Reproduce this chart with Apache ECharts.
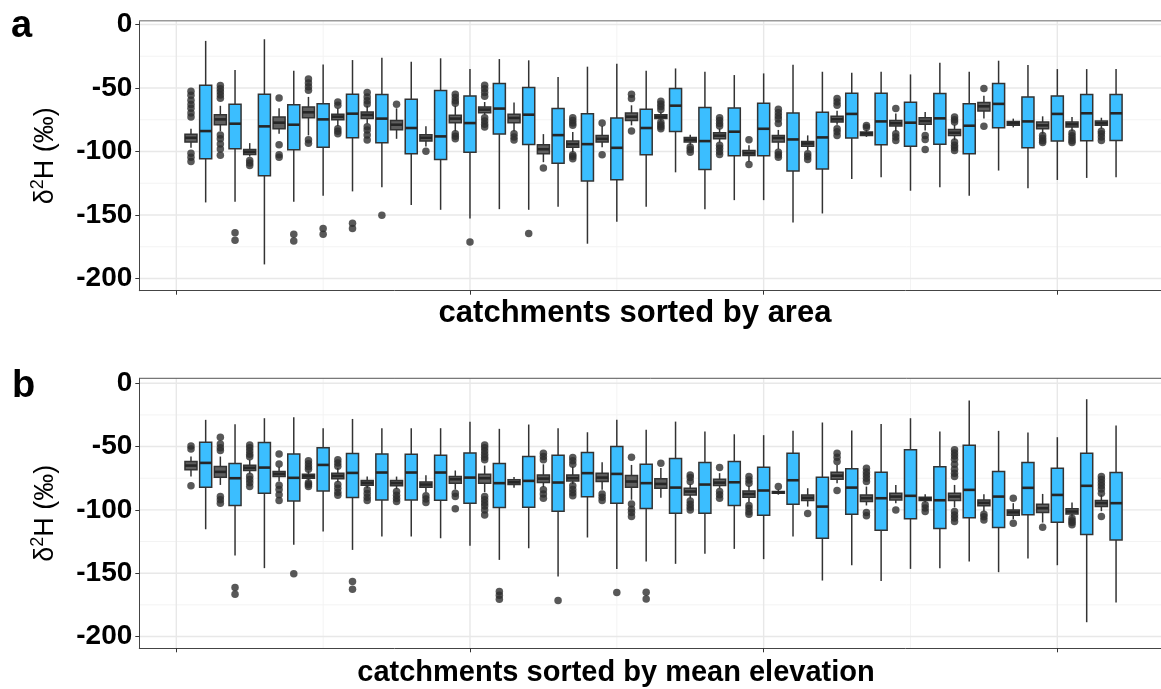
<!DOCTYPE html>
<html><head><meta charset="utf-8">
<script src="https://cdn.jsdelivr.net/npm/echarts@6/dist/echarts.min.js"></script>
<style>html,body{margin:0;padding:0;background:#fff}#c{width:1161px;height:689px}</style>
</head><body><div id="c"></div>
<script>
// ---------------- DATA ----------------
const catchments = [1,2,3,4,5,6,7,8,9,10,11,12,13,14,15,16,17,18,19,20,21,22,23,24,25,26,27,28,29,30,31,32];
const yTickValues = [-200, -150, -100, -50, 0];
const yMinorGrid = [-175, -125, -75, -25];
const xTickValues = [0, 10, 20, 30];
const xMinorGrid = [5, 15, 25];
const panelLabels = ['a', 'b'];
const xTitles = ['catchments sorted by area', 'catchments sorted by mean elevation'];
const yTitleParts = ['δ', '2', 'H (‰)'];

// box stats: [lower whisker, Q1, median, Q3, upper whisker]
// (a) catchments sorted by area — narrow dark boxes
const areaStreamBox = [
  [-97,-92.6,-89.2,-86.5,-82],[-84,-78.9,-74.7,-71,-64],[-104,-102.4,-100.3,-98.4,-93.4],[-86,-82.1,-77.3,-72.8,-66],
  [-87.3,-73.4,-69.1,-64.9,-57],[-80,-74.9,-72.6,-70.7,-66],[-78,-74.1,-71.2,-68.9,-64],[-90,-82.8,-78.9,-75.5,-66],
  [-96,-91.8,-89.2,-86.8,-80.2],[-84,-77.3,-74.1,-71.5,-64],[-71,-69.4,-67,-64.9,-61],[-84,-77.3,-73.6,-70.7,-61.5],
  [-108.4,-101.8,-98.2,-94.7,-86.3],[-100.5,-96.6,-94.2,-91.8,-84.7],[-96.6,-92.6,-90,-87.3,-80],[-79.4,-75.5,-72.6,-69.7,-63.6],
  [-76,-74.1,-72.6,-71,-69],[-95,-92.6,-90.7,-88.9,-86.8],[-93,-90,-87.5,-85.2,-82],[-108,-103.2,-101.3,-99.2,-95],
  [-98,-92.6,-89.4,-87.3,-83],[-99,-95.8,-93.7,-92.1,-87.3],[-79,-76.8,-74.6,-72.3,-68],[-88.5,-87.3,-85.8,-84.7,-83],
  [-84,-79.9,-77.8,-75.5,-70],[-83.4,-78.6,-76,-73.4,-68.9],[-91,-87.3,-85.2,-82.6,-79],[-74,-68.1,-64.4,-61.5,-56],
  [-81,-79.4,-77.8,-76.3,-74.1],[-86,-82.1,-79.4,-76.8,-72.3],[-84,-80.7,-78.6,-76.8,-72.8],[-82,-79.4,-77.8,-76,-73.4]
];
const areaStreamOutliers = [
  [1,-52.5],[1,-55.7],[1,-59.6],[1,-63],[1,-66],[1,-69.7],[1,-72.8],[1,-101.3],[1,-104.5],[1,-107.9],
  [2,-48],[2,-50.5],[2,-53],[2,-55.5],[2,-58],[2,-87],[2,-90],[2,-94],[2,-98],[2,-103],
  [3,-107],[3,-109],[3,-111],
  [4,-57.8],[4,-94.7],[4,-102.6],[4,-104.5],
  [5,-43],[5,-46],[5,-49],[5,-51.7],[5,-90.8],[5,-93.4],
  [6,-61],[6,-63.6],[6,-82],[6,-84],[6,-86],
  [7,-53.5],[7,-57],[7,-60],[7,-62.5],[7,-80.5],[7,-83],[7,-87],[7,-91],
  [8,-62.8],[9,-99.7],
  [10,-55],[10,-57.5],[10,-60],[10,-62],[10,-86],[10,-88],[10,-90],
  [11,-47.8],[11,-50.5],[11,-53.5],[11,-56.5],[11,-73.5],[11,-76],[11,-78.5],[11,-80.7],
  [12,-86],[12,-88.5],[12,-91],
  [13,-112.9],
  [14,-73.4],[14,-75.5],[14,-77.5],[14,-79.4],[14,-102.6],[14,-104],[14,-105.8],
  [15,-77.6],[15,-102.6],
  [16,-55],[16,-58.3],[16,-83.9],
  [17,-60.4],[17,-62.5],[17,-64.5],[17,-67],[17,-77],[17,-79],[17,-80.5],[17,-82],
  [18,-96.5],[18,-98.5],[18,-100.5],
  [19,-73.4],[19,-75.5],[19,-78],[19,-80],[19,-95],[19,-97.5],[19,-100],[19,-102.4],
  [20,-90.8],[20,-110.3],
  [21,-66.8],[21,-69.5],[21,-72],[21,-74.5],[21,-78],[21,-100.5],[21,-102.5],[21,-104.5],
  [22,-101.8],[22,-104],[22,-106.3],
  [23,-58.3],[23,-61],[23,-63.5],[23,-82],[23,-84.5],[23,-87.3],
  [24,-79.5],[24,-81],
  [25,-66.2],[25,-86],[25,-88.5],[25,-91.3],
  [26,-87.3],[26,-90.5],[26,-98.4],
  [27,-72.8],[27,-75],[27,-76.8],[27,-92.6],[27,-95],[27,-97],[27,-99.2],
  [28,-50.4],[28,-80.2],
  [30,-87.3],[30,-89.5],[30,-91.5],[30,-93],
  [31,-85.5],[31,-87.5],[31,-89.5],[31,-91.5],[31,-93],
  [32,-84],[32,-86],[32,-88.5],[32,-91.3]
];
// (a) wide blue boxes
const areaPrecipBox = [
  [-140.1,-105.8,-83.9,-47.8,-12.9],[-139.6,-97.9,-78.1,-62.8,-35.9],[-188.9,-119,-80.2,-54.9,-11.6],[-139.6,-98.7,-78.9,-63.1,-36.4],
  [-134.8,-96.6,-74.7,-62.3,-31.4],[-131.4,-89.2,-70.2,-54.9,-28],[-128.2,-93.1,-74.1,-55.1,-26.1],[-142.2,-101.8,-81.5,-58.8,-29.3],
  [-145.9,-106.3,-88.1,-52,-26.6],[-152.8,-100.5,-77.6,-56.2,-35.1],[-145.4,-86.3,-66.2,-46.4,-27.2],[-145.9,-94.5,-71,-49.6,-28.2],
  [-143.5,-109.2,-87.1,-66.2,-41.4],[-172.6,-123.2,-94.2,-70.2,-33.2],[-155.4,-122.2,-97.1,-73.6,-30.9],[-143.5,-102.6,-81.5,-66.8,-36.4],
  [-116.4,-84.2,-63.9,-50.4,-34.6],[-145.4,-114.2,-91.8,-65.4,-37.2],[-138.3,-103.4,-84.4,-65.7,-39.8],[-138.3,-103.4,-82.1,-62,-38.5],
  [-155.9,-115.3,-90.5,-69.7,-31.7],[-148.8,-113.7,-88.9,-69.1,-37.2],[-121.6,-89.4,-70.4,-54.1,-38],[-120.3,-94.7,-76.3,-54.1,-37.2],
  [-130.9,-95.8,-77.3,-61.2,-39.3],[-128.2,-94.2,-73.9,-54.4,-30.1],[-134.8,-101.8,-79.7,-62.3,-37.2],[-115,-81.3,-62.5,-46.4,-28.5],
  [-129,-97.1,-76.3,-57,-31.9],[-122.4,-91.8,-70.4,-56.2,-35.1],[-120.8,-91.6,-69.9,-55.1,-35.1],[-120.3,-91.3,-69.9,-55.1,-35.1]
];
const areaPrecipOutliers = [
  [2,-163.9],[2,-169.9],[4,-165.2],[4,-170.4],[5,-160.7],[5,-165.2],[6,-156.5],[6,-160.7],[7,-150.1],[10,-171.2],[12,-164.6]
];

// (b) catchments sorted by mean elevation — narrow dark boxes
const elevStreamBox = [
  [-73.7,-68.4,-65,-61.8,-57.9],[-80.3,-74.2,-70,-65.8,-57.9],[-71.5,-68.9,-66.8,-64.7,-60.5],[-77.5,-73.7,-71.6,-69.7,-66],
  [-77,-75,-73.4,-71.8,-69.5],[-78,-75.5,-73.2,-71,-67],[-83,-80.5,-78.7,-76.8,-73.7],[-83.5,-81,-78.9,-76.8,-73.7],
  [-86,-82.1,-80,-77.9,-72.6],[-84,-78.9,-75.8,-73.7,-68.9],[-86,-78.9,-75,-71.8,-65],[-82.5,-80,-78.2,-76.3,-74],
  [-82,-78.4,-75.3,-72.4,-64],[-79.5,-77.1,-75,-72.4,-66],[-84.2,-77.6,-74.5,-71,-62.4],[-92,-82.1,-77.6,-72.9,-64.5],
  [-90.5,-82.9,-79.5,-75.5,-67],[-91,-88.2,-85.5,-82.9,-79.5],[-83,-80.8,-78.5,-75.8,-71],[-94,-90,-87.5,-85,-81],
  [-88,-86.8,-86.2,-85.5,-84],[-97.4,-92.6,-90.5,-88.2,-82.9],[-78.9,-75.8,-73,-70.3,-64.5],[-96.5,-93.4,-90.8,-88.2,-81.6],
  [-94.7,-92.1,-89.5,-86.8,-80.3],[-94,-92.6,-91.3,-90,-87.6],[-98,-92.6,-89.5,-86.8,-80.3],[-101,-96.8,-94.5,-92.1,-87.6],
  [-107.4,-104.2,-102,-100,-94.7],[-110,-102.1,-98.7,-95.5,-87.4],[-105.5,-103.2,-101.3,-99.2,-94.2],[-101,-97.4,-94.7,-92.6,-88]
];
const elevStreamOutliers = [
  [1,-49.5],[1,-52],[1,-81],
  [2,-42.6],[2,-48],[2,-51],[2,-53.2],[2,-89.5],[2,-92],[2,-94.7],
  [3,-48.7],[3,-51],[3,-53.5],[3,-56],[3,-58],[3,-73.5],[3,-76],[3,-78.5],[3,-81.6],
  [4,-55.8],[4,-63.7],[4,-80.5],[4,-84],[4,-88],[4,-92.6],
  [5,-61.3],[5,-63.5],[5,-66],[5,-68],[5,-78.5],[5,-80],[5,-81.6],
  [6,-60.5],[6,-63],[6,-65.5],[6,-80],[6,-83],[6,-86],[6,-88.5],
  [7,-84.2],[7,-87],[7,-90],[7,-92.6],
  [8,-85.5],[8,-88.5],[8,-91],[8,-93.4],
  [9,-88.9],[9,-91.5],[9,-94.2],
  [10,-86.8],[10,-89.5],[10,-99.2],
  [11,-48.7],[11,-51],[11,-53.5],[11,-56],[11,-58.5],[11,-60.5],[11,-89.5],[11,-92],[11,-94.5],[11,-97],[11,-100],[11,-104],
  [13,-55.3],[13,-57.8],[13,-60.5],[13,-84.2],[13,-87.5],[13,-90.8],
  [14,-58.7],[14,-61.3],[14,-63.9],[14,-81],[14,-84],[14,-86.5],[14,-88.9],
  [15,-87.5],[15,-90],[15,-92.6],
  [16,-58.4],[16,-95.3],[16,-99.5],[16,-102],[16,-105.3],
  [17,-63.2],
  [18,-72.4],[18,-74.5],[18,-77.6],[18,-93],[18,-95.5],[18,-98],[18,-100],
  [19,-66.6],[19,-85.5],[19,-88],[19,-90.8],
  [20,-73.7],[20,-76.5],[20,-79],[20,-96.5],[20,-99],[20,-101.5],[20,-103.5],
  [21,-81.6],
  [22,-102.9],
  [23,-55.3],[23,-58.5],[23,-61.8],[23,-84.7],
  [24,-67.1],[24,-70],[24,-72.5],[24,-75],[24,-77.6],[24,-102.1],[24,-104.7],
  [25,-100],
  [26,-96],[26,-98.5],[26,-101.3],
  [27,-52.6],[27,-55],[27,-57.5],[27,-60],[27,-64],[27,-68],[27,-71],[27,-73.7],[27,-101.3],[27,-104],[27,-106.5],[27,-109.2],
  [28,-103.4],[28,-105.5],[28,-107.9],
  [29,-90.8],[29,-110.5],
  [30,-113.7],
  [31,-106.6],[31,-108.5],[31,-110],[31,-111.8],
  [32,-73.7],[32,-76],[32,-78.5],[32,-81],[32,-83.5],[32,-86.8],[32,-105.3]
];
// (b) wide blue boxes
const elevPrecipBox = [
  [-115.3,-82.1,-62.9,-46.6,-28.9],[-136,-96.6,-75,-63.4,-32.4],[-146,-86.8,-66.6,-46.8,-27.6],[-127.6,-92.9,-74.7,-55.8,-26.8],
  [-117.1,-85,-64.5,-51,-35.5],[-131.6,-90.3,-70.8,-55.5,-28.2],[-121.1,-92.1,-70.5,-55.8,-35.5],[-121.1,-92.1,-70.5,-56,-35.5],
  [-122.4,-92.4,-70.5,-56.8,-35.5],[-128.4,-94.7,-74.5,-55,-30.5],[-139.5,-98.2,-78.9,-63.4,-36],[-130.3,-97.9,-77.1,-57.9,-32.6],
  [-152.6,-101,-78.4,-56.8,-35.5],[-121.8,-89.7,-71,-54.7,-38.7],[-146.6,-94.7,-71.6,-50,-28.9],[-140.8,-98.9,-78.9,-63.9,-36.8],
  [-142.6,-102.6,-82.4,-59.5,-30.3],[-134.7,-102.6,-80,-62.6,-38.2],[-130.8,-96.6,-78.2,-61.8,-40.3],[-138.9,-104.2,-84.7,-66.3,-41],
  [-121.1,-95.5,-76.6,-55.3,-37.6],[-155.8,-122.4,-97.4,-74.2,-31],[-143.7,-103.4,-82.4,-67.6,-37.4],[-156.1,-116.1,-90.8,-70.3,-32.1],
  [-146.6,-107.1,-88.9,-52.6,-27.6],[-146,-114.7,-92.4,-66,-38.2],[-140.8,-106.3,-84.2,-48.9,-13.7],[-149.2,-113.9,-89.5,-69.7,-37.6],
  [-138.4,-103.9,-82.6,-62.6,-38.9],[-143.7,-109.7,-88.2,-67.1,-42.6],[-188.7,-119.5,-81,-55.3,-12.6],[-173.2,-123.7,-94.7,-70.5,-33.4]
];
const elevPrecipOutliers = [
  [2,-161.3],[2,-166.6],[4,-150.5],[6,-156.6],[6,-162.6],[11,-164.5],[11,-167.5],[11,-170.5],[13,-171.6],[15,-165.3],[16,-165],[16,-170.3]
];

// ---------------- STYLE / LAYOUT ----------------
const FONT = '"Liberation Sans", Arial, sans-serif';
const STREAM_SHIFT = -0.5;   // narrow dark box drawn left of the blue one
const BOX_W = 0.41;          // box width in x units
const DARK_FILL = '#5e5e5e', BLUE_FILL = '#3BBEFF', EDGE = '#333333';
const GRID_LEFT = 139.3, GRID_W = 1021.4;

function boxRenderer(fill) {
  return function (params, api) {
    const x = api.value(0);
    const lo = api.coord([x, api.value(1)]);
    const q1 = api.coord([x, api.value(2)]);
    const md = api.coord([x, api.value(3)]);
    const q3 = api.coord([x, api.value(4)]);
    const hi = api.coord([x, api.value(5)]);
    const w = api.size([BOX_W, 0])[0];
    const cx = lo[0];
    return {
      type: 'group',
      children: [
        { type: 'line', shape: { x1: cx, y1: hi[1], x2: cx, y2: q3[1] }, style: { stroke: EDGE, lineWidth: 1.5 } },
        { type: 'line', shape: { x1: cx, y1: q1[1], x2: cx, y2: lo[1] }, style: { stroke: EDGE, lineWidth: 1.5 } },
        { type: 'rect', shape: { x: cx - w / 2, y: q3[1], width: w, height: q1[1] - q3[1] }, style: { fill: fill, stroke: EDGE, lineWidth: 1.5 } },
        { type: 'line', shape: { x1: cx - w / 2, y1: md[1], x2: cx + w / 2, y2: md[1] }, style: { stroke: '#262626', lineWidth: 2.6 } }
      ]
    };
  };
}

function gridLineSeries(gi, values, dir, color, width, z) {
  return {
    type: 'custom', xAxisIndex: gi, yAxisIndex: gi, silent: true, z: z || 0,
    data: values.map(v => [v]),
    renderItem: function (params, api) {
      const cs = params.coordSys;
      const v = api.value(0);
      if (dir === 'h') {
        const y = api.coord([0, v])[1];
        return { type: 'line', shape: { x1: cs.x, y1: y, x2: cs.x + cs.width + 20, y2: y }, style: { stroke: color, lineWidth: width } };
      }
      const x = api.coord([v, 0])[0];
      return { type: 'line', shape: { x1: x, y1: cs.y, x2: x, y2: cs.y + cs.height }, style: { stroke: color, lineWidth: width } };
    }
  };
}

const panels = [
  { stream: areaStreamBox, streamOut: areaStreamOutliers, precip: areaPrecipBox, precipOut: areaPrecipOutliers,
    top: 20.7, ymin: -209.6, ymax: 3.0, nameGap: 7, namePad: 30, nameSize: 31, frame: '#9a9a9a', frameW: 1.6 },
  { stream: elevStreamBox, streamOut: elevStreamOutliers, precip: elevPrecipBox, precipOut: elevPrecipOutliers,
    top: 378.3, ymin: -209.3, ymax: 3.9, nameGap: 10, namePad: 68, nameSize: 29, frame: '#555555', frameW: 1 }
];

const grids = [], xAxes = [], yAxes = [], series = [];
panels.forEach((p, gi) => {
  grids.push({ left: GRID_LEFT, top: p.top, width: GRID_W, height: 270, show: false });
  xAxes.push({
    type: 'value', gridIndex: gi, min: -1.26, max: 33.52, position: 'bottom',
    axisLine: { show: true, onZero: false, lineStyle: { color: '#444', width: 1 } },
    axisTick: { show: true, customValues: xTickValues, length: 4, lineStyle: { color: '#333', width: 1 } },
    axisLabel: { show: false }, splitLine: { show: false },
    name: xTitles[gi], nameLocation: 'middle', nameGap: p.nameGap,
    nameTextStyle: { fontFamily: FONT, fontSize: p.nameSize, fontWeight: 'bold', color: '#000', padding: [0, p.namePad, 0, 0] }
  });
  yAxes.push({
    type: 'value', gridIndex: gi, min: p.ymin, max: p.ymax, position: 'left',
    axisLine: { show: true, onZero: false, lineStyle: { color: '#444', width: 1 } },
    axisTick: { show: true, customValues: yTickValues, length: 4, lineStyle: { color: '#333', width: 1 } },
    axisLabel: { customValues: yTickValues, fontFamily: FONT, fontSize: 28, fontWeight: 'bold', color: '#000', margin: 7 },
    splitLine: { show: false },
    name: '{d|' + yTitleParts[0] + '}{s|' + yTitleParts[1] + '}{d|' + yTitleParts[2] + '}',
    nameLocation: 'middle', nameGap: 80, nameRotate: 90,
    nameTextStyle: {
      fontFamily: FONT, fontSize: 27, color: '#000',
      rich: {
        d: { fontFamily: FONT, fontSize: 27, color: '#000', verticalAlign: 'bottom', lineHeight: 30 },
        s: { fontFamily: FONT, fontSize: 18, color: '#000', verticalAlign: 'top', lineHeight: 30, padding: [0, 0, 10, 0] }
      }
    }
  });
  series.push(gridLineSeries(gi, yMinorGrid, 'h', '#f3f3f3', 1));
  series.push(gridLineSeries(gi, xMinorGrid, 'v', '#f3f3f3', 1));
  series.push(gridLineSeries(gi, yTickValues, 'h', '#e8e8e8', 1.4));
  series.push(gridLineSeries(gi, xTickValues, 'v', '#e8e8e8', 1.4));
  series.push(gridLineSeries(gi, [p.ymax], 'h', p.frame, p.frameW, 1));
  series.push({
    type: 'custom', xAxisIndex: gi, yAxisIndex: gi, z: 2,
    renderItem: boxRenderer(DARK_FILL),
    encode: { x: 0, y: [1, 2, 3, 4, 5] },
    data: catchments.map((k, i) => [k + STREAM_SHIFT].concat(p.stream[i]))
  });
  series.push({
    type: 'custom', xAxisIndex: gi, yAxisIndex: gi, z: 2,
    renderItem: boxRenderer(BLUE_FILL),
    encode: { x: 0, y: [1, 2, 3, 4, 5] },
    data: catchments.map((k, i) => [k].concat(p.precip[i]))
  });
  series.push({
    type: 'scatter', xAxisIndex: gi, yAxisIndex: gi, z: 3, symbol: 'circle', symbolSize: 7.5,
    itemStyle: { color: '#2e2e2e' },
    data: p.streamOut.map(d => [d[0] + STREAM_SHIFT, d[1]]).concat(p.precipOut.map(d => [d[0], d[1]]))
  });
});

const chart = echarts.init(document.getElementById('c'), null, { renderer: 'canvas' });
chart.setOption({
  animation: false,
  backgroundColor: '#fff',
  grid: grids, xAxis: xAxes, yAxis: yAxes, series: series,
  graphic: [
    { type: 'text', left: 11, top: 8, style: { text: panelLabels[0], font: 'bold 38px ' + FONT, fill: '#000' } },
    { type: 'text', left: 12, top: 368, style: { text: panelLabels[1], font: 'bold 38px ' + FONT, fill: '#000' } }
  ]
});
</script></body></html>
